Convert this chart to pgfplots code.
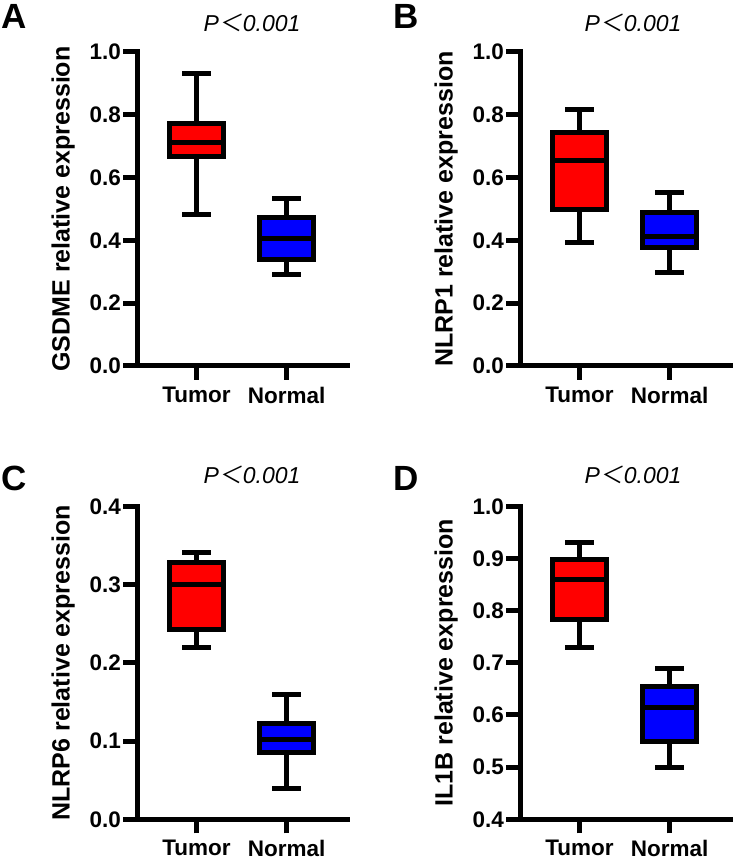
\documentclass[border=0pt]{standalone}
\usepackage{fontspec}
\setmainfont{Liberation Sans}
\newfontfamily\cjk[FakeSlant=0.15]{Noto Sans CJK SC}
\usepackage{pgfplots}
\pgfplotsset{compat=1.18}
\usepgfplotslibrary{statistics}
\definecolor{boxred}{RGB}{255,0,0}
\definecolor{boxblue}{RGB}{0,0,255}
\pgfplotsset{
  panel/.style={
    scale only axis, width=210pt,
    axis lines=left, axis line style={-, line width=5pt, line cap=rect},
    xmin=-0.66, xmax=1.67,
    xtick={0,1}, xticklabels={Tumor,Normal},
    tick align=outside, major tick length=14pt,
    tick style={line width=5pt, black},
    /pgf/number format/assume math mode=true,
    /pgf/number format/fixed, /pgf/number format/fixed zerofill, /pgf/number format/precision=1,
    tick label style={font=\fontsize{22.5}{22.5}\selectfont\bfseries},
    yticklabel style={inner sep=2pt},
    xticklabel style={inner sep=7pt},
    ylabel style={at={(axis description cs:-0.352,0.5)}, anchor=center, font=\fontsize{25}{25}\selectfont\bfseries},
    clip=false,
    boxplot/draw direction=y,
  },
  bx/.style={boxplot prepared={#1}, draw=black, line width=5pt, line join=miter, mark=none,
    boxplot/box extend=0.604, boxplot/whisker extend=0.32},
}
\begin{document}
\begin{tikzpicture}[x=1pt,y=1pt]
\useasboundingbox (0,0) rectangle (733,860);
% Panel A
\begin{axis}[panel, at={(137pt,494pt)}, anchor=south west, height=314pt, ymin=0, ymax=1, ytick={0,0.2,0.4,0.6,0.8,1.0}, ylabel={GSDME relative expression}]
\addplot[bx={draw position=0, lower whisker=0.481, lower quartile=0.668, median=0.711, upper quartile=0.773, upper whisker=0.933}, fill=boxred] coordinates {};
\addplot[bx={draw position=1, lower whisker=0.290, lower quartile=0.338, median=0.405, upper quartile=0.474, upper whisker=0.532}, fill=boxblue] coordinates {};
\end{axis}
% Panel B
\begin{axis}[panel, at={(520pt,494pt)}, anchor=south west, height=314pt, ymin=0, ymax=1, ytick={0,0.2,0.4,0.6,0.8,1.0}, ylabel={NLRP1 relative expression}]
\addplot[bx={draw position=0, lower whisker=0.392, lower quartile=0.497, median=0.653, upper quartile=0.745, upper whisker=0.818}, fill=boxred] coordinates {};
\addplot[bx={draw position=1, lower whisker=0.299, lower quartile=0.376, median=0.411, upper quartile=0.490, upper whisker=0.551}, fill=boxblue] coordinates {};
\end{axis}
% Panel C
\begin{axis}[panel, at={(137pt,40.7pt)}, anchor=south west, height=313pt, ymin=0, ymax=0.4, ytick={0,0.1,0.2,0.3,0.4}, ylabel={NLRP6 relative expression}]
\addplot[bx={draw position=0, lower whisker=0.220, lower quartile=0.242, median=0.300, upper quartile=0.328, upper whisker=0.341}, fill=boxred] coordinates {};
\addplot[bx={draw position=1, lower whisker=0.040, lower quartile=0.086, median=0.102, upper quartile=0.123, upper whisker=0.160}, fill=boxblue] coordinates {};
\end{axis}
% Panel D
\begin{axis}[panel, at={(520pt,40.7pt)}, anchor=south west, height=313pt, ymin=0.4, ymax=1, ytick={0.4,0.5,0.6,0.7,0.8,0.9,1.0}, ylabel={IL1B relative expression}]
\addplot[bx={draw position=0, lower whisker=0.730, lower quartile=0.783, median=0.860, upper quartile=0.898, upper whisker=0.930}, fill=boxred] coordinates {};
\addplot[bx={draw position=1, lower whisker=0.500, lower quartile=0.549, median=0.615, upper quartile=0.654, upper whisker=0.689}, fill=boxblue] coordinates {};
\end{axis}
% Titles and panel letters
\foreach \x/\y in {252/837, 633/837, 252/385, 633/385}
  \node[font=\fontsize{23}{23}\selectfont\itshape, inner sep=0pt] at (\x,\y) {P\kern1pt{\cjk ＜}0.001};
\node[font=\fontsize{35}{35}\selectfont\bfseries, inner sep=0pt] at (14,844) {A};
\node[font=\fontsize{35}{35}\selectfont\bfseries, inner sep=0pt] at (406,844) {B};
\node[font=\fontsize{35}{35}\selectfont\bfseries, inner sep=0pt] at (14,382) {C};
\node[font=\fontsize{35}{35}\selectfont\bfseries, inner sep=0pt] at (406,382) {D};
\end{tikzpicture}
\end{document}
